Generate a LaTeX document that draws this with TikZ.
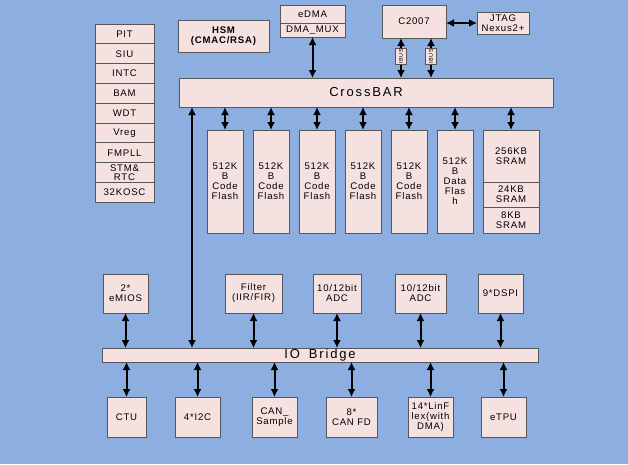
\documentclass[tikz,border=0pt]{standalone}
\usepackage{fontspec}
\setmainfont{Liberation Sans}[LetterSpace=8]
\definecolor{bgblue}{HTML}{8DAEE0}
\definecolor{boxpink}{HTML}{F5E1DF}
\definecolor{boxline}{HTML}{575757}
\usetikzlibrary{arrows.meta, positioning}
\tikzset{
  blk/.style = {rectangle, draw = boxline, fill = boxpink, line width = 1pt, inner sep = 1pt, outer sep = 0pt, align = center, font = \fontsize{9.6}{10}\selectfont},
  bus/.style = {blk, font = \fontsize{13}{13}\selectfont\addfontfeatures{LetterSpace=14}},
  ibusbox/.style = {blk, rotate = 90, minimum width = 16, minimum height = 11, inner sep = 0pt, font = \fontsize{5.5}{5.5}\selectfont},
  biarr/.style = {{Latex[length=8pt, width=8pt]}-{Latex[length=8pt, width=8pt]}, line width = 2pt, black},
}
\begin{document}
\begin{tikzpicture}[x=1pt, y=-1pt]
\fill[bgblue] (0,0) rectangle (628,464);
\useasboundingbox (0,0) rectangle (628,464);
% left column of small modules
\node[blk, minimum width = 59, minimum height = 19.8, anchor = north west] (pit) at (95,24) {PIT};
\node[blk, minimum width = 59, minimum height = 19.8, below = 0pt of pit] (siu) {SIU};
\node[blk, minimum width = 59, minimum height = 19.8, below = 0pt of siu] (intc) {INTC};
\node[blk, minimum width = 59, minimum height = 19.8, below = 0pt of intc] (bam) {BAM};
\node[blk, minimum width = 59, minimum height = 19.8, below = 0pt of bam] (wdt) {WDT};
\node[blk, minimum width = 59, minimum height = 19.8, below = 0pt of wdt] (vreg) {Vreg};
\node[blk, minimum width = 59, minimum height = 19.8, below = 0pt of vreg] (fmpll) {FMPLL};
\node[blk, minimum width = 59, minimum height = 19.8, inner sep = 0pt, below = 0pt of fmpll, font = \fontsize{9.6}{9}\selectfont] (stm) {STM\&\\RTC};
\node[blk, minimum width = 59, minimum height = 19.8, below = 0pt of stm] (osc) {32KOSC};
% top row
\node[blk, minimum width = 91, minimum height = 32, anchor = north west, font = \fontsize{9.6}{10.5}\selectfont\bfseries] (hsm) at (178,20) {HSM\\(CMAC/RSA)};
\node[blk, minimum width = 65, minimum height = 18, anchor = north west] (edma) at (280,5) {eDMA};
\node[blk, minimum width = 65, minimum height = 14, below = 0pt of edma] (dmamux) {DMA\_MUX};
\node[blk, minimum width = 64, minimum height = 33, anchor = north west] (c2007) at (382,5) {C2007};
\node[blk, minimum width = 52, minimum height = 22, anchor = north west] (jtag) at (477,12) {JTAG\\Nexus2+};
\node[bus, minimum width = 374, minimum height = 29, anchor = north west] (xbar) at (179,78) {CrossBAR};
% memories
\node[blk, minimum width = 36, minimum height = 103, anchor = north west] (cf1) at (207,130) {512K\\B\\Code\\Flash};
\node[blk, minimum width = 36, minimum height = 103, anchor = north west] (cf2) at (253,130) {512K\\B\\Code\\Flash};
\node[blk, minimum width = 36, minimum height = 103, anchor = north west] (cf3) at (299,130) {512K\\B\\Code\\Flash};
\node[blk, minimum width = 36, minimum height = 103, anchor = north west] (cf4) at (345,130) {512K\\B\\Code\\Flash};
\node[blk, minimum width = 36, minimum height = 103, anchor = north west] (cf5) at (391,130) {512K\\B\\Code\\Flash};
\node[blk, minimum width = 36, minimum height = 103, anchor = north west] (df) at (437,130) {512K\\B\\Data\\Flas\\h};
\node[blk, minimum width = 56, minimum height = 52, anchor = north west] (sram256) at (483,130) {256KB\\SRAM};
\node[blk, minimum width = 56, minimum height = 25, below = 0pt of sram256] (sram24) {24KB\\SRAM};
\node[blk, minimum width = 56, minimum height = 26, below = 0pt of sram24] (sram8) {8KB\\SRAM};
% peripherals above the IO bridge
\node[blk, minimum width = 45, minimum height = 39, anchor = north west] (emios) at (103,274) {2*\\eMIOS};
\node[blk, minimum width = 57, minimum height = 39, anchor = north west] (filter) at (225,274) {Filter\\(IIR/FIR)};
\node[blk, minimum width = 48, minimum height = 39, anchor = north west] (adca) at (313,274) {10/12bit\\ADC};
\node[blk, minimum width = 51, minimum height = 39, anchor = north west] (adcb) at (395,274) {10/12bit\\ADC};
\node[blk, minimum width = 45, minimum height = 39, anchor = north west] (dspi) at (478,274) {9*DSPI};
\node[bus, minimum width = 436, minimum height = 14, inner sep = 0pt, anchor = north west] (iob) at (102,348) {IO\hspace{9pt}Bridge};
% peripherals below the IO bridge
\node[blk, minimum width = 39, minimum height = 40, anchor = north west] (ctu) at (107,397) {CTU};
\node[blk, minimum width = 45, minimum height = 40, anchor = north west] (itc) at (175,397) {4*I2C};
\node[blk, minimum width = 45, minimum height = 40, anchor = north west] (cans) at (252,397) {CAN\_\\Sample};
\node[blk, minimum width = 51, minimum height = 40, anchor = north west] (canfd) at (326,397) {8*\\CAN FD};
\node[blk, minimum width = 45, minimum height = 40, anchor = north west] (lin) at (408,397) {14*LinF\\lex(with\\DMA)};
\node[blk, minimum width = 45, minimum height = 40, anchor = north west] (etpu) at (481,397) {eTPU};
% connections
\coordinate (ibusl) at (401,0);
\coordinate (ibusr) at (431,0);
\coordinate (iotap) at (192,0);
\draw[biarr] (dmamux.south) -- (xbar.north -| dmamux.south);
\draw[biarr] (c2007.east |- jtag) -- (jtag.west);
\draw[biarr] (c2007.south -| ibusl) -- node[ibusbox, pos = 0.45] (ibusa) {IBUS} (xbar.north -| ibusl);
\draw[biarr] (c2007.south -| ibusr) -- node[ibusbox, pos = 0.45] (ibusb) {IBUS} (xbar.north -| ibusr);
\draw[biarr] (xbar.south -| cf1.north) -- (cf1.north);
\draw[biarr] (xbar.south -| cf2.north) -- (cf2.north);
\draw[biarr] (xbar.south -| cf3.north) -- (cf3.north);
\draw[biarr] (xbar.south -| cf4.north) -- (cf4.north);
\draw[biarr] (xbar.south -| cf5.north) -- (cf5.north);
\draw[biarr] (xbar.south -| df.north) -- (df.north);
\draw[biarr] (xbar.south -| sram256.north) -- (sram256.north);
\draw[biarr] (xbar.south -| iotap) -- (iob.north -| iotap);
\draw[biarr] (emios.south) -- (iob.north -| emios.south);
\draw[biarr] (filter.south) -- (iob.north -| filter.south);
\draw[biarr] (adca.south) -- (iob.north -| adca.south);
\draw[biarr] (adcb.south) -- (iob.north -| adcb.south);
\draw[biarr] (dspi.south) -- (iob.north -| dspi.south);
\draw[biarr] (iob.south -| ctu.north) -- (ctu.north);
\draw[biarr] (iob.south -| itc.north) -- (itc.north);
\draw[biarr] (iob.south -| cans.north) -- (cans.north);
\draw[biarr] (iob.south -| canfd.north) -- (canfd.north);
\draw[biarr] (iob.south -| lin.north) -- (lin.north);
\draw[biarr] (iob.south -| etpu.north) -- (etpu.north);
\end{tikzpicture}
\end{document}
